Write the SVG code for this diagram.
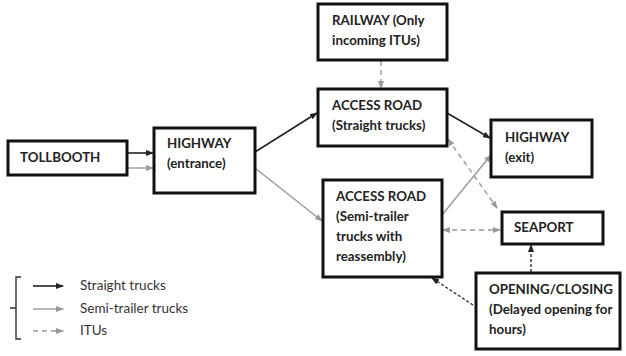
<svg xmlns="http://www.w3.org/2000/svg" width="626" height="356" viewBox="0 0 626 356">
<style>
.box{fill:#fff;stroke:#111;stroke-width:3}
.t{font-family:Lato,"Liberation Sans",sans-serif;font-weight:bold;font-size:13.3px;fill:#222}
.lg{font-family:Lato,"Liberation Sans",sans-serif;font-size:13.5px;fill:#333}
.blk{stroke:#222;stroke-width:1.6;fill:none}
.gry{stroke:#999;stroke-width:1.4;fill:none}
.dg{stroke:#999;stroke-width:1.4;fill:none;stroke-dasharray:5,4}
.db{stroke:#333;stroke-width:1.4;fill:none;stroke-dasharray:3,2}
</style>
<defs>
<marker id="ab" markerWidth="8" markerHeight="6" refX="7" refY="3" orient="auto" markerUnits="userSpaceOnUse"><path d="M0,0 L8,3 L0,6 Z" fill="#222"/></marker>
<marker id="ag" markerWidth="8" markerHeight="6" refX="7" refY="3" orient="auto" markerUnits="userSpaceOnUse"><path d="M0,0 L8,3 L0,6 Z" fill="#999"/></marker>
<marker id="ags" markerWidth="8" markerHeight="6" refX="1" refY="3" orient="auto" markerUnits="userSpaceOnUse"><path d="M8,0 L0,3 L8,6 Z" fill="#999"/></marker>
</defs>
<g id="connectors">
<line class="blk" x1="127" y1="153" x2="153" y2="153" marker-end="url(#ab)"/>
<line class="gry" x1="127" y1="168" x2="153" y2="168" marker-end="url(#ag)"/>
<line class="blk" x1="255" y1="152" x2="317" y2="113" marker-end="url(#ab)"/>
<line class="gry" x1="255" y1="168" x2="322" y2="221" marker-end="url(#ag)"/>
<line class="blk" x1="447" y1="113" x2="490" y2="138" marker-end="url(#ab)"/>
<line class="gry" x1="442" y1="215" x2="491" y2="155" marker-end="url(#ag)"/>
<line class="dg" x1="381" y1="61" x2="381" y2="88" marker-end="url(#ag)"/>
<line class="dg" x1="448" y1="139" x2="497" y2="208" marker-start="url(#ags)" marker-end="url(#ag)"/>
<line class="dg" x1="443" y1="230" x2="500" y2="230" marker-start="url(#ags)" marker-end="url(#ag)"/>
<line class="db" x1="531" y1="272" x2="531" y2="245" marker-end="url(#ab)"/>
<line class="db" x1="473" y1="305" x2="432" y2="278" marker-end="url(#ab)"/>
</g>
<g id="tollbooth"><rect class="box" x="8" y="141" width="119" height="34"/><text class="t" x="20" y="162">TOLLBOOTH</text></g>
<g id="highway-entrance"><rect class="box" x="154" y="128" width="101" height="65"/><text class="t" x="167" y="148">HIGHWAY</text><text class="t" x="167" y="168">(entrance)</text></g>
<g id="railway"><rect class="box" x="318" y="4" width="129" height="56"/><text class="t" x="332" y="25">RAILWAY (Only</text><text class="t" x="332" y="45">incoming ITUs)</text></g>
<g id="access-straight"><rect class="box" x="318" y="89" width="129" height="57"/><text class="t" x="332" y="110">ACCESS ROAD</text><text class="t" x="332" y="130">(Straight trucks)</text></g>
<g id="highway-exit"><rect class="box" x="491" y="120" width="101" height="57"/><text class="t" x="505" y="142">HIGHWAY</text><text class="t" x="505" y="162">(exit)</text></g>
<g id="access-semi"><rect class="box" x="323" y="180" width="119" height="97"/><text class="t" x="336" y="201">ACCESS ROAD</text><text class="t" x="336" y="221">(Semi-trailer</text><text class="t" x="336" y="241">trucks with</text><text class="t" x="336" y="261">reassembly)</text></g>
<g id="seaport"><rect class="box" x="502" y="212" width="101" height="32"/><text class="t" x="514" y="232">SEAPORT</text></g>
<g id="opening"><rect class="box" x="476" y="273" width="144" height="76"/><text class="t" x="489" y="294">OPENING/CLOSING</text><text class="t" x="489" y="314">(Delayed opening for</text><text class="t" x="489" y="334">hours)</text></g>
<g id="legend">
<path d="M21,277 L16,277 L16,339 L21,339 M16,308 L10,308" fill="none" stroke="#333" stroke-width="1.4"/>
<line class="blk" x1="33" y1="286" x2="63" y2="286" marker-end="url(#ab)"/>
<line class="gry" x1="33" y1="309" x2="63" y2="309" marker-end="url(#ag)"/>
<line class="dg" x1="33" y1="331" x2="63" y2="331" stroke-dasharray="4,3" marker-end="url(#ag)"/>
<text class="lg" x="80" y="290">Straight trucks</text>
<text class="lg" x="80" y="313">Semi-trailer trucks</text>
<text class="lg" x="80" y="335">ITUs</text>
</g>
</svg>
